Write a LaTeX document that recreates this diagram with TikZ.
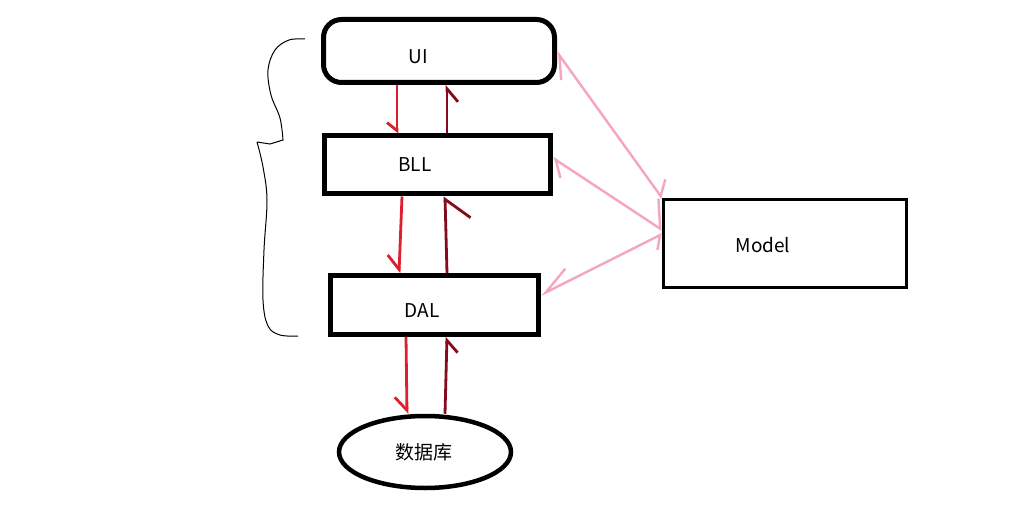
\documentclass[tikz,border=0pt]{standalone}
\usepackage{fontspec}
\setmainfont{Noto Sans CJK SC}
\usetikzlibrary{arrows.meta,shapes.geometric}
\definecolor{downred}{RGB}{222,32,46}
\definecolor{upred}{RGB}{132,10,30}
\definecolor{linkpink}{RGB}{245,165,192}
\tikzset{
  layerbox/.style={draw=black, line width=5pt, rectangle, inner sep=0pt},
  lbl/.style={font=\fontsize{19}{21}\selectfont, inner sep=0pt},
  downarrow/.style 2 args={draw=downred, line width=2.8pt, -{Straight Barb[harpoon,swap,length=#1pt,width=#2pt]}},
  uparrow/.style 2 args={draw=upred, line width=2.8pt, -{Straight Barb[harpoon,swap,length=#1pt,width=#2pt]}},
  pinkline/.style={draw=linkpink, line width=2.4pt},
}
\begin{document}
\begin{tikzpicture}[x=1pt,y=-1pt]
\useasboundingbox (0,0) rectangle (1034,516);
\fill[white] (0,0) rectangle (1034,516);

% layer boxes
\node[layerbox, rounded corners=18pt, minimum width=231pt, minimum height=63pt] (ui) at (439,51) {};
\node[layerbox, minimum width=226pt, minimum height=58pt] (bll) at (437.5,165) {};
\node[layerbox, line width=4.5pt, minimum width=208pt, minimum height=59pt] (dal) at (434.5,305) {};
\node[draw=black, line width=2.6pt, rectangle, inner sep=0pt, minimum width=243pt, minimum height=88pt] (model) at (785,243.5) {};
\node[draw=black, line width=4.5pt, ellipse, inner sep=0pt, minimum width=172pt, minimum height=72pt] (db) at (425,452) {};

% labels
\node[lbl] (uit) at (418,57) {UI};
\node[lbl] (bllt) at (415,165) {BLL};
\node[lbl] (dalt) at (422,311) {DAL};
\node[lbl] (modelt) at (763,245) {Model};
\node[lbl] (dbt) at (424,452) {数据库};

% red vertical arrows
\draw[downarrow={8}{20}] (397,0 |- ui.south) -- (397,0 |- bll.north);
\draw[uparrow={13}{22}] (447,0 |- bll.north) -- (447,0 |- ui.south);
\draw[downarrow={14}{24}] (402,0 |- bll.south) -- (399,0 |- dal.north);
\draw[uparrow={19}{50}] (447,0 |- dal.north) -- (445,0 |- bll.south);
\draw[downarrow={13}{24}] (406,0 |- dal.south) -- (407,0 |- db.north);
\draw[uparrow={12}{22}] (445,0 |- db.north) -- (447,0 |- dal.south);

% pink links to Model
\draw[pinkline, {Straight Barb[harpoon,length=21pt,width=26pt]}-{Straight Barb[harpoon,length=11pt,width=27pt]}]
  (ui.east |- 0,52) -- (model.north west);
\draw[pinkline, {Straight Barb[harpoon,length=14pt,width=25pt]}-{Straight Barb[harpoon,length=18pt,width=48pt]}]
  (bll.east |- 0,158) -- (model.west |- 0,230);
\draw[pinkline, {Straight Barb[harpoon,swap,length=28pt,width=25pt]}-{Straight Barb[harpoon,swap,length=9pt,width=24pt]}]
  (dal.east |- 0,295) -- (model.west |- 0,234);

% brace
\draw[black, line width=1pt] plot[smooth, tension=0.6] coordinates {(305,39) (289,40) (275,50) (268,70) (271,95) (280,118) (283,140)}
  -- (270,144) -- (257,142);
\draw[black, line width=1pt] plot[smooth, tension=0.6] coordinates {(257,142) (263,167) (267,200) (264,250) (263,300) (268,326) (280,335) (298,336)};
\end{tikzpicture}
\end{document}
